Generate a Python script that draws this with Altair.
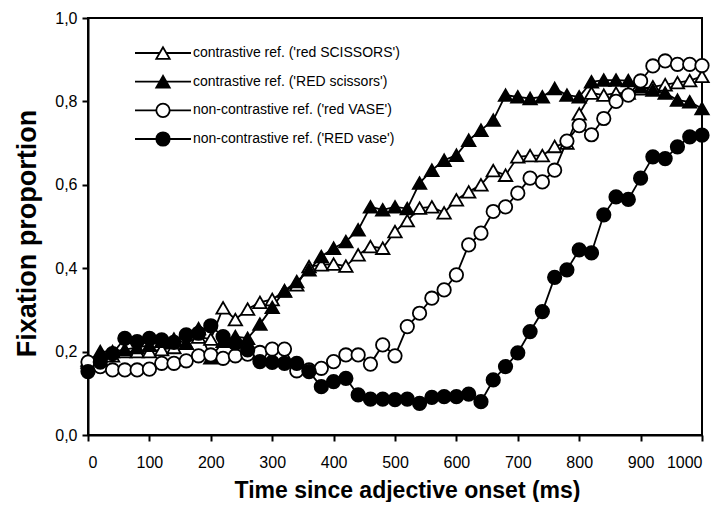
import altair as alt
import pandas as pd

times = list(range(0, 1001, 20))

series_names = [
    "contrastive ref. ('red SCISSORS')",
    "contrastive ref. ('RED scissors')",
    "non-contrastive ref. ('red VASE')",
    "non-contrastive ref. ('RED vase')",
]

open_tri = [0.18, 0.18, 0.19, 0.20, 0.20, 0.20, 0.205, 0.21, 0.22, 0.235,
            0.23, 0.305, 0.277, 0.302, 0.318, 0.325, 0.345, 0.36, 0.404, 0.408,
            0.41, 0.405, 0.432, 0.452, 0.448, 0.488, 0.514, 0.544, 0.547, 0.533,
            0.564, 0.583, 0.60, 0.634, 0.623, 0.667, 0.67, 0.67, 0.692, 0.70,
            0.77, 0.82, 0.815, 0.82, 0.82, 0.83, 0.835, 0.84, 0.845, 0.85,
            0.86]

filled_tri = [0.175, 0.20, 0.20, 0.205, 0.21, 0.215, 0.225, 0.23, 0.22, 0.255,
              0.185, 0.225, 0.236, 0.232, 0.266, 0.306, 0.346, 0.368, 0.396, 0.428,
              0.448, 0.464, 0.492, 0.547, 0.54, 0.547, 0.543, 0.604, 0.635, 0.659,
              0.671, 0.707, 0.731, 0.755, 0.815, 0.811, 0.807, 0.811, 0.831, 0.815,
              0.811, 0.847, 0.851, 0.851, 0.85, 0.835, 0.827, 0.82, 0.803, 0.799,
              0.783]

open_circ = [0.175, 0.164, 0.156, 0.156, 0.156, 0.158, 0.172, 0.172, 0.178, 0.19,
             0.192, 0.184, 0.19, 0.194, 0.198, 0.206, 0.206, 0.154, 0.156, 0.16,
             0.176, 0.192, 0.192, 0.17, 0.216, 0.19, 0.26, 0.292, 0.328, 0.348,
             0.384, 0.456, 0.484, 0.536, 0.547, 0.58, 0.616, 0.607, 0.635, 0.705,
             0.742, 0.72, 0.759, 0.80, 0.815, 0.849, 0.885, 0.897, 0.889, 0.889,
             0.886]

filled_circ = [0.152, 0.175, 0.195, 0.232, 0.224, 0.232, 0.228, 0.222, 0.24, 0.244,
               0.262, 0.236, 0.22, 0.204, 0.176, 0.174, 0.172, 0.172, 0.152, 0.116,
               0.128, 0.136, 0.096, 0.086, 0.086, 0.085, 0.086, 0.076, 0.09, 0.092,
               0.092, 0.098, 0.08, 0.132, 0.164, 0.197, 0.248, 0.296, 0.378, 0.396,
               0.444, 0.437, 0.528, 0.571, 0.565, 0.616, 0.667, 0.663, 0.691, 0.715,
               0.719]

x_ticks = list(range(0, 1001, 100))
y_ticks = [0.0, 0.2, 0.4, 0.6, 0.8, 1.0]

shapes = ["triangle-up", "triangle-up", "circle", "circle"]
fills = ["white", "black", "white", "black"]

rows = []
for i, (name, vals) in enumerate(zip(series_names, [open_tri, filled_tri, open_circ, filled_circ])):
    for t, v in zip(times, vals):
        rows.append({"series": name, "order": i, "time": t, "prop": v})
df = pd.DataFrame(rows)
legend_df = pd.DataFrame({"series": series_names, "order": list(range(4))})

FONT = "Liberation Sans"

shape_scale = alt.Scale(domain=series_names, range=shapes)
fill_scale = alt.Scale(domain=series_names, range=fills)

x_enc = alt.X("time:Q", scale=alt.Scale(domain=[0, 1000], nice=False),
              axis=alt.Axis(values=x_ticks, format="d",
                            title="Time since adjective onset (ms)",
                            titleX=319, titleY=55, titleBaseline="middle",
                            titleFontSize=23))
y_enc = alt.Y("prop:Q", scale=alt.Scale(domain=[0, 1], nice=False),
              axis=alt.Axis(values=y_ticks, title="Fixation proportion",
                            labelExpr="replace(format(datum.value, '.1f'), '.', ',')",
                            titleX=-61, titleY=215, titleBaseline="middle",
                            titleFontSize=27))

lines = alt.Chart(df).mark_line(color="black", strokeWidth=1.8).encode(
    x=x_enc, y=y_enc, detail="series:N", order="time:Q"
)

points = alt.Chart(df).mark_point(filled=False, size=180, stroke="black",
                                  strokeWidth=1.8, opacity=1).encode(
    x="time:Q", y="prop:Q",
    shape=alt.Shape("series:N", scale=shape_scale, legend=None),
    fill=alt.Fill("series:N", scale=fill_scale, legend=None),
    order="order:Q",
)

main = alt.layer(lines, points)

# legend (drawn inside the plot, top-left)
leg_y = alt.Y("series:N", scale=alt.Scale(type="point", domain=series_names,
                                           range=[35, 121], padding=0), axis=None)

leg_lines = alt.Chart(legend_df).mark_rule(color="black", strokeWidth=1.8).encode(
    x=alt.value(47), x2=alt.value(103), y=leg_y
)
leg_points = alt.Chart(legend_df).mark_point(filled=False, size=180, stroke="black",
                                             strokeWidth=1.8, opacity=1).encode(
    x=alt.value(75), y=leg_y,
    shape=alt.Shape("series:N", scale=shape_scale, legend=None),
    fill=alt.Fill("series:N", scale=fill_scale, legend=None),
)
leg_text = alt.Chart(legend_df).mark_text(align="left", baseline="middle", font=FONT,
                                          fontSize=14, color="black").encode(
    x=alt.value(105), y=leg_y, text="series:N"
)

legend = alt.layer(leg_lines, leg_points, leg_text)

chart = alt.layer(main, legend).resolve_scale(
    y="independent"
).properties(
    width=614, height=417,
    autosize=alt.AutoSizeParams(type="none"),
    padding={"left": 80, "top": 10, "right": 15, "bottom": 67},
).configure_view(
    stroke="black", strokeWidth=2
).configure_axis(
    domainColor="black", domainWidth=2, tickColor="black", tickWidth=2, tickSize=6,
    labelFont=FONT, labelFontSize=16, labelColor="black",
    titleFont=FONT, titleFontWeight="bold", titleColor="black",
    grid=False,
).configure_axisX(
    labelPadding=13, labelAngle=0
).configure_axisY(
    labelPadding=5
)

chart.save("out.html", embed_options={"renderer": "svg", "actions": False})
